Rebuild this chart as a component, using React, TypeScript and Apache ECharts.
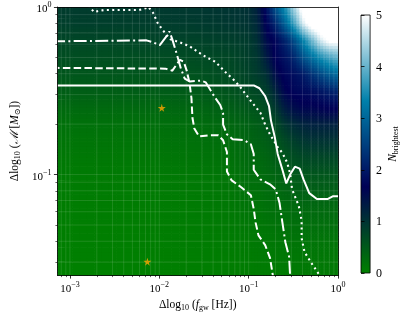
import React, { useEffect, useRef } from 'react';
import * as echarts from 'echarts';

// ---- axis extents (log10 units) ----
const xMinLog = -3.14;
const xMaxLog = 0;
const yMinLog = -1.6;
const yMaxLog = 0;
const xMajorTicks = [-3, -2, -1, 0];
const yMajorTicks = [-1, 0];

// ---- heatmap nodes (log10 f, log10 M) ----
const gridLogF = [-3.14, -2.4, -1.6, -1.2, -1.0, -0.9, -0.8, -0.7, -0.6, -0.5, -0.4, -0.3, -0.2, -0.1, 0];
const gridLogM = [0, -0.1, -0.2, -0.3, -0.4, -0.5, -0.6, -0.7, -0.8, -0.9, -1.0, -1.2, -1.4, -1.6];
// N_brightest values, one row per gridLogM node
const nRowM00 = [0.9, 0.9, 0.95, 1.0, 1.05, 1.25, 1.9, 2.8, 3.5, 4.4, 5.2, 5.5, 5.5, 5.5, 5.5];
const nRowM01 = [0.85, 0.85, 0.9, 0.95, 1.0, 1.15, 1.7, 2.2, 2.9, 3.7, 4.7, 5.3, 5.5, 5.5, 5.5];
const nRowM02 = [0.75, 0.75, 0.8, 0.85, 0.9, 1.05, 1.5, 1.75, 2.1, 2.6, 3.3, 4.0, 4.7, 5.1, 5.1];
const nRowM03 = [0.65, 0.65, 0.7, 0.75, 0.85, 0.95, 1.3, 1.7, 1.9, 2.15, 2.7, 3.1, 3.5, 3.8, 4.0];
const nRowM04 = [0.55, 0.55, 0.6, 0.7, 0.8, 0.9, 1.05, 1.5, 1.75, 1.85, 2.0, 2.3, 2.6, 2.9, 3.1];
const nRowM05 = [0.45, 0.45, 0.5, 0.6, 0.7, 0.75, 0.85, 1.2, 1.6, 1.75, 1.8, 1.85, 1.95, 2.1, 2.2];
const nRowM06 = [0.3, 0.3, 0.35, 0.45, 0.55, 0.6, 0.7, 0.95, 1.3, 1.5, 1.6, 1.6, 1.65, 1.7, 1.7];
const nRowM07 = [0.2, 0.2, 0.25, 0.32, 0.4, 0.45, 0.55, 0.7, 0.95, 1.1, 1.2, 1.25, 1.25, 1.25, 1.25];
const nRowM08 = [0.15, 0.15, 0.2, 0.25, 0.35, 0.4, 0.45, 0.55, 0.7, 0.85, 0.95, 1.0, 1.0, 1.0, 1.0];
const nRowM09 = [0.1, 0.1, 0.15, 0.2, 0.3, 0.3, 0.35, 0.45, 0.55, 0.65, 0.72, 0.75, 0.75, 0.75, 0.75];
const nRowM10 = [0.07, 0.07, 0.1, 0.15, 0.25, 0.25, 0.3, 0.35, 0.42, 0.5, 0.55, 0.55, 0.55, 0.55, 0.55];
const nRowM12 = [0.04, 0.04, 0.06, 0.1, 0.15, 0.15, 0.2, 0.22, 0.25, 0.28, 0.3, 0.3, 0.3, 0.3, 0.3];
const nRowM14 = [0.02, 0.02, 0.04, 0.06, 0.08, 0.1, 0.1, 0.12, 0.14, 0.15, 0.15, 0.15, 0.15, 0.15, 0.15];
const nRowM16 = [0, 0, 0.02, 0.03, 0.04, 0.05, 0.05, 0.05, 0.06, 0.07, 0.08, 0.08, 0.08, 0.08, 0.08];
const nRows = [nRowM00, nRowM01, nRowM02, nRowM03, nRowM04, nRowM05, nRowM06, nRowM07, nRowM08, nRowM09, nRowM10, nRowM12, nRowM14, nRowM16];

// ---- contour lines [log10 f, log10 M] ----
const solidLine = [
  [-3.2, -0.468], [-0.943, -0.468], [-0.879, -0.485], [-0.815, -0.532], [-0.772, -0.591], [-0.75, -0.678],
  [-0.707, -0.778], [-0.675, -0.877], [-0.622, -0.971], [-0.579, -1.053], [-0.536, -1.0], [-0.482, -0.953],
  [-0.429, -0.965], [-0.386, -1.029], [-0.322, -1.111], [-0.236, -1.146], [-0.118, -1.146], [-0.054, -1.129], [0, -1.129],
];
const dashedLine = [
  [-3.2, -0.363], [-1.929, -0.368], [-1.854, -0.38], [-1.801, -0.339], [-1.768, -0.316], [-1.726, -0.327],
  [-1.693, -0.38], [-1.661, -0.456], [-1.64, -0.544], [-1.629, -0.661], [-1.608, -0.725], [-1.554, -0.772],
  [-1.447, -0.766], [-1.34, -0.766], [-1.286, -0.795], [-1.243, -0.865], [-1.243, -0.982], [-1.19, -1.035],
  [-1.083, -1.076], [-0.975, -1.123], [-0.943, -1.205], [-0.922, -1.287], [-0.89, -1.363], [-0.815, -1.421],
  [-0.761, -1.497], [-0.729, -1.602], [-0.718, -1.655],
];
const dashDotLine = [
  [-3.2, -0.205], [-2.144, -0.199], [-2.069, -0.211], [-1.994, -0.228], [-1.929, -0.181], [-1.886, -0.146],
  [-1.854, -0.193], [-1.801, -0.287], [-1.758, -0.368], [-1.715, -0.427], [-1.661, -0.444], [-1.533, -0.439],
  [-1.479, -0.45], [-1.426, -0.497], [-1.372, -0.544], [-1.318, -0.585], [-1.286, -0.632], [-1.286, -0.702],
  [-1.243, -0.76], [-1.179, -0.789], [-1.05, -0.795], [-0.975, -0.819], [-0.943, -0.877], [-0.943, -0.971],
  [-0.868, -1.029], [-0.761, -1.058], [-0.697, -1.088], [-0.654, -1.17], [-0.622, -1.287], [-0.589, -1.404],
  [-0.547, -1.491], [-0.536, -1.602], [-0.536, -1.655],
];
const dottedLine = [
  [-2.79, 0.01], [-2.76, -0.012], [-2.73, -0.03], [-2.69, -0.025], [-2.62, -0.018], [-2.551, -0.018], [-2.337, -0.018],
  [-2.229, -0.018], [-2.144, -0.006], [-2.122, 0], [-2.069, -0.035], [-2.015, -0.099], [-1.94, -0.152],
  [-1.876, -0.193], [-1.768, -0.211], [-1.661, -0.234], [-1.565, -0.269], [-1.479, -0.298], [-1.372, -0.327],
  [-1.265, -0.386], [-1.158, -0.439], [-1.083, -0.485], [-0.975, -0.561], [-0.868, -0.632], [-0.815, -0.702],
  [-0.761, -0.76], [-0.675, -0.836], [-0.622, -0.871], [-0.568, -0.93], [-0.536, -0.994], [-0.514, -1.088],
  [-0.439, -1.187], [-0.407, -1.275], [-0.407, -1.38], [-0.375, -1.462], [-0.3, -1.526], [-0.225, -1.585], [-0.193, -1.62],
];
const starPoints = [[-1.972, -0.602], [-2.133, -1.52]];

const oceanStops = ['#008000', '#000055', '#0080aa', '#ffffff'];
const FONT = "'Liberation Serif', 'DejaVu Serif', serif";

function minorTicks(lo: number, hi: number): number[] {
  const out: number[] = [];
  for (let d = Math.floor(lo) - 1; d <= Math.ceil(hi); d++) {
    for (let k = 2; k <= 9; k++) {
      const v = d + Math.log10(k);
      if (v > lo && v < hi) out.push(v);
    }
  }
  return out;
}

function cmap(v: number): string {
  const t = Math.max(0, Math.min(1, v / 5));
  return echarts.color.lerp(t, oceanStops) as string;
}

const supText = (v: number) => (v === 0 ? '0' : '\u2212' + Math.abs(v));

export default function App() {
  const ref = useRef<HTMLDivElement>(null);
  useEffect(() => {
    if (!ref.current) return;
    const chart = echarts.init(ref.current, undefined, { renderer: 'svg' });
    const xMinor = minorTicks(xMinLog, xMaxLog);
    const yMinor = minorTicks(yMinLog, yMaxLog);

    const cells: number[][] = [];
    for (let j = 0; j < gridLogM.length - 1; j++) {
      for (let i = 0; i < gridLogF.length - 1; i++) {
        cells.push([(gridLogF[i] + gridLogF[i + 1]) / 2, (gridLogM[j] + gridLogM[j + 1]) / 2, i, j]);
      }
    }

    const tickRich = {
      b: { fontSize: 11, fontFamily: FONT, color: '#000', verticalAlign: 'bottom' },
      s: { fontSize: 8, fontFamily: FONT, color: '#000', verticalAlign: 'bottom', padding: [0, 0, 5, 0] },
    };
    const nameRich = {
      t: { fontSize: 11.5, fontFamily: FONT, color: '#000', verticalAlign: 'top' },
      i: { fontSize: 11.5, fontFamily: FONT, fontStyle: 'italic', color: '#000', verticalAlign: 'top' },
      sb: { fontSize: 8, fontFamily: FONT, color: '#000', verticalAlign: 'top', padding: [5, 0, 0, 0] },
    };

    const lineBase = (data: number[][], type: any, width: number) => ({
      type: 'line',
      xAxisIndex: 0,
      yAxisIndex: 0,
      data,
      showSymbol: false,
      clip: true,
      silent: true,
      lineStyle: { color: '#ffffff', width, type, cap: 'butt' },
      z: 4,
    });

    const option: any = {
      animation: false,
      grid: [
        { left: 45, top: 7, width: 293, height: 274 },
        { left: 361, top: 15, width: 13, height: 258 },
      ],
      xAxis: [
        {
          gridIndex: 0, type: 'value', min: xMinLog, max: xMaxLog, position: 'bottom', z: 10,
          axisLine: { show: true, onZero: false, lineStyle: { color: '#000', width: 0.8 } },
          axisTick: { show: true, customValues: xMajorTicks, length: 3.5, lineStyle: { color: '#000', width: 0.8 } },
          axisLabel: { show: true, customValues: xMajorTicks, margin: 5, formatter: (v: number) => `{b|10}{s|${supText(Math.round(v))}}`, rich: tickRich },
          splitLine: { show: false },
          name: '{t|\u0394log}{sb|10}{t| (}{i|f}{sb|gw}{t| [Hz])}',
          nameLocation: 'middle', nameGap: 15,
          nameTextStyle: { rich: nameRich },
        },
        {
          gridIndex: 0, type: 'value', min: xMinLog, max: xMaxLog, position: 'bottom', z: 10,
          axisLine: { show: false, onZero: false },
          axisTick: { show: true, customValues: xMinor, length: 2, lineStyle: { color: '#000', width: 0.6 } },
          axisLabel: { show: false },
          splitLine: { show: false },
        },
        {
          gridIndex: 0, type: 'value', min: xMinLog, max: xMaxLog, position: 'top', z: 10,
          axisLine: { show: true, onZero: false, lineStyle: { color: '#000', width: 0.8 } },
          axisTick: { show: false }, axisLabel: { show: false }, splitLine: { show: false },
        },
        {
          gridIndex: 1, type: 'value', min: 0, max: 1, show: false,
        },
      ],
      yAxis: [
        {
          gridIndex: 0, type: 'value', min: yMinLog, max: yMaxLog, position: 'left', z: 10,
          axisLine: { show: true, onZero: false, lineStyle: { color: '#000', width: 0.8 } },
          axisTick: { show: true, customValues: yMajorTicks, length: 3.5, lineStyle: { color: '#000', width: 0.8 } },
          axisLabel: { show: true, customValues: yMajorTicks, margin: 6, formatter: (v: number) => `{b|10}{s|${supText(Math.round(v))}}`, rich: tickRich },
          splitLine: { show: false },
          name: '{t|\u0394log}{sb|10}{t| (}{i|\u2133}{t| [}{i|M}{sb|\u2299}{t|])}',
          nameLocation: 'middle', nameGap: 26, nameRotate: 90,
          nameTextStyle: { rich: nameRich },
        },
        {
          gridIndex: 0, type: 'value', min: yMinLog, max: yMaxLog, position: 'left', z: 10,
          axisLine: { show: false, onZero: false },
          axisTick: { show: true, customValues: yMinor, length: 2, lineStyle: { color: '#000', width: 0.6 } },
          axisLabel: { show: false },
          splitLine: { show: false },
        },
        {
          gridIndex: 0, type: 'value', min: yMinLog, max: yMaxLog, position: 'right', z: 10,
          axisLine: { show: true, onZero: false, lineStyle: { color: '#000', width: 0.8 } },
          axisTick: { show: false }, axisLabel: { show: false }, splitLine: { show: false },
        },
        {
          gridIndex: 1, type: 'value', min: 0, max: 5, interval: 1, position: 'right', z: 10,
          axisLine: { show: false },
          axisTick: { show: true, length: 3.5, lineStyle: { color: '#000', width: 0.8 } },
          axisLabel: { show: true, margin: 6, fontSize: 12, fontFamily: FONT, color: '#000' },
          splitLine: { show: false },
          name: '{i|N}{sb|brightest}',
          nameLocation: 'middle', nameGap: 13, nameRotate: 90,
          nameTextStyle: { rich: nameRich },
        },
      ],
      series: [
        {
          type: 'custom',
          xAxisIndex: 0,
          yAxisIndex: 0,
          silent: true,
          z: 1,
          data: cells,
          renderItem: (params: any, api: any) => {
            const i = api.value(2);
            const j = api.value(3);
            const v00 = nRows[j][i], v10 = nRows[j][i + 1];
            const v01 = nRows[j + 1][i], v11 = nRows[j + 1][i + 1];
            const pA = api.coord([gridLogF[i], gridLogM[j]]);
            const pB = api.coord([gridLogF[i + 1], gridLogM[j + 1]]);
            const left = pA[0], top = pA[1];
            const w = pB[0] - pA[0];
            const h = pB[1] - pA[1];
            const nx = Math.max(1, Math.ceil(w / (w > 30 ? 8 : 3)));
            const ny = Math.max(1, Math.ceil(h / 3));
            const children: any[] = [];
            for (let ky = 0; ky < ny; ky++) {
              const sy = (ky + 0.5) / ny;
              const vl = v00 + (v01 - v00) * sy;
              const vr = v10 + (v11 - v10) * sy;
              for (let kx = 0; kx < nx; kx++) {
                const sx = (kx + 0.5) / nx;
                children.push({
                  type: 'rect',
                  shape: { x: left + (kx / nx) * w, y: top + (ky / ny) * h, width: w / nx + 0.7, height: h / ny + 0.7 },
                  style: { fill: cmap(vl + (vr - vl) * sx) },
                });
              }
            }
            return { type: 'group', children };
          },
        },
        {
          type: 'custom',
          xAxisIndex: 0,
          yAxisIndex: 0,
          silent: true,
          z: 2,
          data: [[-1.5, -0.8]],
          renderItem: (params: any, api: any) => {
            const children: any[] = [];
            const style = { stroke: 'rgba(255,255,255,0.15)', lineWidth: 0.8 };
            [...xMajorTicks, ...xMinor].forEach((v) => {
              const a = api.coord([v, yMinLog]);
              const b = api.coord([v, yMaxLog]);
              children.push({ type: 'line', shape: { x1: a[0], y1: a[1], x2: b[0], y2: b[1] }, style });
            });
            [...yMajorTicks, ...yMinor].forEach((v) => {
              const a = api.coord([xMinLog, v]);
              const b = api.coord([xMaxLog, v]);
              children.push({ type: 'line', shape: { x1: a[0], y1: a[1], x2: b[0], y2: b[1] }, style });
            });
            return { type: 'group', children };
          },
        },
        lineBase(solidLine, 'solid', 2),
        lineBase(dashedLine, [7.5, 3.3], 2),
        lineBase(dashDotLine, [13, 3.3, 2, 3.3], 2),
        lineBase(dottedLine, [2, 3.4], 2.1),
        {
          type: 'scatter',
          xAxisIndex: 0,
          yAxisIndex: 0,
          data: starPoints,
          symbol: 'path://M50,0 L61,35 L98,35 L68,57 L79,91 L50,70 L21,91 L32,57 L2,35 L39,35 Z',
          symbolSize: 8,
          itemStyle: { color: '#ffa500' },
          silent: true,
          z: 5,
        },
        {
          type: 'custom',
          xAxisIndex: 3,
          yAxisIndex: 3,
          silent: true,
          data: [[0.5, 2.5]],
          renderItem: (params: any, api: any) => {
            const p0 = api.coord([0, 0]);
            const p1 = api.coord([1, 5]);
            return {
              type: 'rect',
              shape: { x: p0[0], y: p1[1], width: p1[0] - p0[0], height: p0[1] - p1[1] },
              style: {
                fill: {
                  type: 'linear', x: 0, y: 1, x2: 0, y2: 0,
                  colorStops: oceanStops.map((c, k) => ({ offset: k / (oceanStops.length - 1), color: c })),
                },
                stroke: '#000',
                lineWidth: 0.8,
              },
            };
          },
        },
      ],
    };
    chart.setOption(option);
    return () => chart.dispose();
  }, []);
  return <div ref={ref} style={{ position: 'fixed', left: 0, top: 0, width: 400, height: 316 }} />;
}
